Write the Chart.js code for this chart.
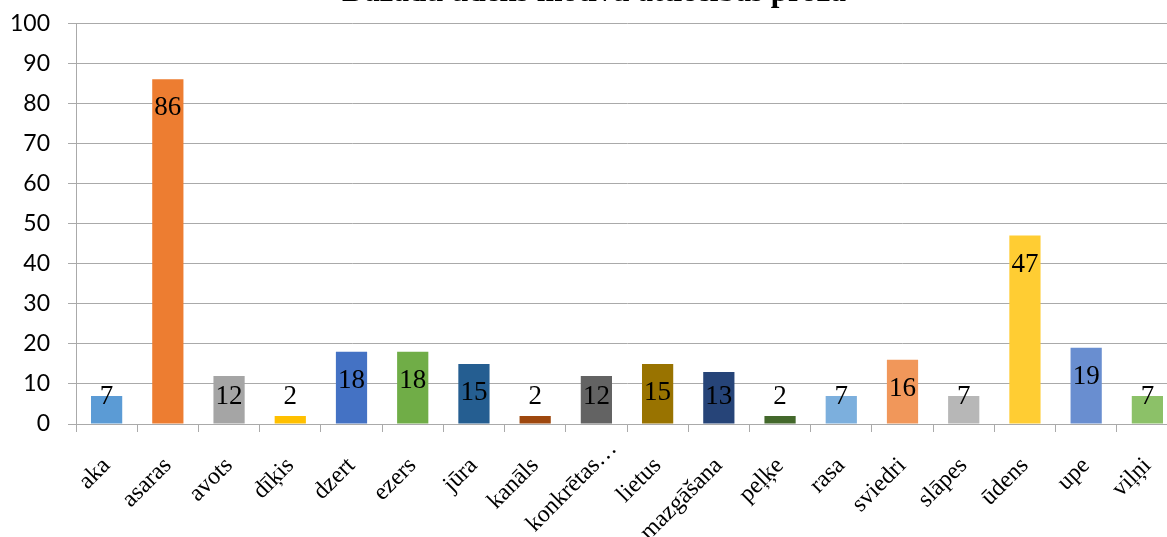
<!DOCTYPE html>
<html>
<head>
<meta charset="utf-8">
<script src="https://cdn.jsdelivr.net/npm/chart.js@4/dist/chart.umd.min.js"></script>
<style>
html,body{margin:0;padding:0;background:#fff;overflow:hidden;width:1167px;height:537px;}
#wrap{position:absolute;left:0;top:-26px;width:1190px;height:563px;}
</style>
</head>
<body>
<div id="wrap"><canvas id="c" width="1190" height="563"></canvas></div>
<script>
const titleText = 'Dažādu ūdens motīvu attiecības prozā';
const categories = ['aka','asaras','avots','dīķis','dzert','ezers','jūra','kanāls','konkrētas…','lietus','mazgāšana','peļķe','rasa','sviedri','slāpes','ūdens','upe','viļņi'];
const values = [7,86,12,2,18,18,15,2,12,15,13,2,7,16,7,47,19,7];
const barColors = ['#5B9BD5','#ED7D31','#A5A5A5','#FFC000','#4472C4','#70AD47','#255E91','#9E480E','#636363','#997300','#264478','#43682B','#7CAFDD','#F1975A','#B7B7B7','#FFCD33','#698ED0','#8CC168'];
const yTicks = {min:0, max:100, step:10};

const labelPlugin = {
  id:'barLabels',
  afterDatasetsDraw(chart){
    const ctx = chart.ctx;
    const meta = chart.getDatasetMeta(0);
    const base = chart.scales.y.getPixelForValue(0);
    ctx.save();
    ctx.font = '27px "Liberation Serif"';
    ctx.fillStyle = '#000';
    ctx.textAlign = 'center';
    ctx.textBaseline = 'middle';
    meta.data.forEach((bar,i)=>{
      const y = Math.min(bar.y + 29, base - 27);
      ctx.fillText(String(values[i]), bar.x, y);
    });
    ctx.restore();
  }
};

const xLabelPlugin = {
  id:'xLabels',
  afterDraw(chart){
    const sx = chart.scales.x;
    const ctx = chart.ctx;
    ctx.save();
    ctx.font = '24px "Liberation Serif"';
    ctx.fillStyle = '#000';
    ctx.textAlign = 'right';
    ctx.textBaseline = 'middle';
    categories.forEach((lab,i)=>{
      let x = sx.getPixelForTick(i);
      let y = sx.top + 38;
      if (lab.endsWith('…')) { x += 17; y -= 17; }
      ctx.save();
      ctx.translate(x, y);
      ctx.rotate(-Math.PI/4);
      ctx.fillText(lab, 0, 0);
      ctx.restore();
    });
    ctx.restore();
  }
};

new Chart(document.getElementById('c'), {
  type:'bar',
  data:{labels:categories, datasets:[{data:values, backgroundColor:barColors, borderWidth:0, categoryPercentage:1, barPercentage:0.51}]},
  options:{
    responsive:false, animation:false,
    layout:{padding:{left:10,right:12,top:0,bottom:0}},
    plugins:{
      legend:{display:false}, tooltip:{enabled:false},
      title:{display:true, text:titleText, color:'#000', font:{family:'Liberation Serif', size:31, weight:'bold'}, padding:{top:0,bottom:12}}
    },
    scales:{
      x:{
        offset:true,
        grid:{offset:true, drawOnChartArea:false, drawTicks:true, tickLength:8, color:'#aaaaaa'},
        border:{color:'#aaaaaa'},
        ticks:{display:false},
        afterFit(s){ s.height = 113; }
      },
      y:{
        min:yTicks.min, max:yTicks.max,
        grid:{color:'#aaaaaa', tickLength:8},
        border:{color:'#aaaaaa'},
        ticks:{stepSize:yTicks.step, color:'#000', padding:18, font:{family:'Lato', size:23}},
        afterFit(s){ s.width = 66; }
      }
    }
  },
  plugins:[labelPlugin, xLabelPlugin]
});
</script>
</body>
</html>
